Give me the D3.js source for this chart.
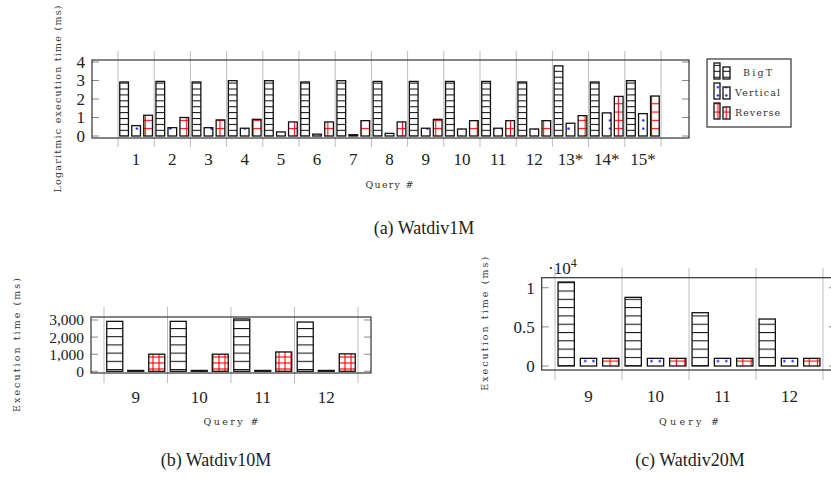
<!DOCTYPE html>
<html>
<head>
<meta charset="utf-8">
<script src="https://cdn.jsdelivr.net/npm/d3@7"></script>
<style>
  body { margin: 0; background: #fff; }
  text { font-family: "Liberation Serif", "DejaVu Serif", serif; fill: #222; }
  text.small { font-family: "DejaVu Serif", serif; fill: #333; }
</style>
</head>
<body>
<script>
// series shown in every panel
const seriesNames = ["BigT", "Vertical", "Reverse"];

// (a) Watdiv1M, log10 of execution time
const queries1M = ["1", "2", "3", "4", "5", "6", "7", "8", "9", "10", "11", "12", "13*", "14*", "15*"];
const bigT1M = [2.92, 2.95, 2.92, 2.99, 2.99, 2.92, 2.99, 2.95, 2.95, 2.95, 2.95, 2.92, 3.79, 2.92, 2.99];
const vertical1M = [0.56, 0.45, 0.45, 0.42, 0.22, 0.1, 0.07, 0.14, 0.42, 0.38, 0.42, 0.38, 0.69, 1.25, 1.21];
const reverse1M = [1.12, 1.0, 0.87, 0.9, 0.76, 0.76, 0.83, 0.76, 0.9, 0.83, 0.83, 0.83, 1.1, 2.14, 2.16];
const ticks1M = [0, 1, 2, 3, 4];

// (b) Watdiv10M, ms
const queries10M = ["9", "10", "11", "12"];
const bigT10M = [2920, 2920, 3060, 2880];
const vertical10M = [50, 50, 50, 50];
const reverse10M = [1000, 1000, 1130, 1020];
const ticks10M = [0, 1000, 2000, 3000];

// (c) Watdiv20M, ms
const queries20M = ["9", "10", "11", "12"];
const bigT20M = [10730, 8770, 6810, 6000];
const vertical20M = [980, 980, 980, 980];
const reverse20M = [980, 980, 980, 980];
const ticks20M = [0, 5000, 10000];

const svg = d3.select("body").append("svg")
    .attr("width", 831).attr("height", 478);
const defs = svg.append("defs");

//builds the three fill patterns used by one panel
function makePatterns(id, hatch, dot, grid) {
    let p = defs.append("pattern").attr("id", "hl" + id)
        .attr("patternUnits", "userSpaceOnUse")
        .attr("width", hatch).attr("height", hatch);
    p.append("line").attr("x1", 0).attr("x2", hatch).attr("y1", 0.5).attr("y2", 0.5)
        .attr("stroke", "#111").attr("stroke-width", 1.1);

    p = defs.append("pattern").attr("id", "dt" + id)
        .attr("patternUnits", "userSpaceOnUse")
        .attr("width", dot).attr("height", dot);
    p.append("circle").attr("cx", dot / 2).attr("cy", dot / 2).attr("r", 1.2).attr("fill", "#0010ff");

    p = defs.append("pattern").attr("id", "gr" + id)
        .attr("patternUnits", "userSpaceOnUse")
        .attr("width", grid).attr("height", grid);
    p.append("line").attr("x1", 0).attr("x2", grid).attr("y1", grid / 2).attr("y2", grid / 2)
        .attr("stroke", "#ff0000").attr("stroke-width", 1.1);
    p.append("line").attr("y1", 0).attr("y2", grid).attr("x1", grid / 2).attr("x2", grid / 2)
        .attr("stroke", "#ff0000").attr("stroke-width", 1.1);
}

function drawPanel(c) {
    makePatterns(c.id, c.hatch, c.dot, c.grid);
    const fills = ["url(#hl" + c.id + ")", "url(#dt" + c.id + ")", "url(#gr" + c.id + ")"];
    const [fx0, fy0, fx1, fy1] = c.frame;
    const g = svg.append("g");

    const x = d3.scaleBand().domain(c.categories).range(c.gridRange);
    const x1 = d3.scaleBand().domain(seriesNames)
        .range([-1.5 * c.spacing, 1.5 * c.spacing])
        .paddingInner(1 - c.barWidth / c.spacing)
        .paddingOuter((1 - c.barWidth / c.spacing) / 2);
    const y = d3.scaleLinear().domain(c.yDomain).range([fy1, fy0]);

    //vertical grid lines between groups, sticking out of the frame
    const bounds = c.categories.map(d => x(d)).concat([x.range()[1]]);
    g.append("g").selectAll("line").data(bounds).enter().append("line")
        .attr("x1", d => d).attr("x2", d => d)
        .attr("y1", fy0 - c.tickExt).attr("y2", fy1 + c.tickExt)
        .attr("stroke", "#bdbdbd").attr("stroke-width", 1);

    //bars, placed in page coordinates so the patterns line up like pgfplots
    const rects = [];
    c.categories.forEach((q, i) => {
        const cx = x(q) + x.bandwidth() / 2;
        seriesNames.forEach((s, k) => rects.push({x: cx + x1(s), v: c.values[k][i], k: k}));
    });
    g.append("g").selectAll("rect").data(rects).enter().append("rect")
        .attr("x", d => d.x)
        .attr("width", x1.bandwidth())
        .attr("y", d => y(d.v))
        .attr("height", d => y(0) - y(d.v))
        .attr("fill", d => fills[d.k])
        .attr("stroke", "#111").attr("stroke-width", 1.3);

    //y ticks inside, on both sides
    const ty = g.append("g");
    c.ticks.forEach(t => {
        ty.append("line").attr("x1", fx0).attr("x2", fx0 + 7).attr("y1", y(t)).attr("y2", y(t))
            .attr("stroke", "#888");
        ty.append("line").attr("x1", fx1 - 7).attr("x2", fx1).attr("y1", y(t)).attr("y2", y(t))
            .attr("stroke", "#888");
        ty.append("text").attr("x", fx0 - 7).attr("y", y(t)).attr("dy", "0.35em")
            .attr("text-anchor", "end").attr("font-size", c.tickSize).text(c.fmt(t));
    });

    //frame
    g.append("rect").attr("x", fx0).attr("y", fy0)
        .attr("width", fx1 - fx0).attr("height", fy1 - fy0)
        .attr("fill", "none").attr("stroke", "#333").attr("stroke-width", 1.2);

    //x tick labels
    g.append("g").selectAll("text").data(c.categories).enter().append("text")
        .attr("x", d => x(d) + x.bandwidth() / 2)
        .attr("y", fy1 + c.labelOff)
        .attr("text-anchor", "middle").attr("font-size", 17)
        .text(d => d);

    //axis titles
    g.append("text").attr("class", "small")
        .attr("x", x.range()[0] / 2 + x.range()[1] / 2).attr("y", c.xlabelY)
        .attr("text-anchor", "middle").attr("font-size", 9.5)
        .attr("textLength", c.xlabelLen).attr("lengthAdjust", "spacing")
        .text("Query #");
    g.append("text").attr("class", "small")
        .attr("transform", "translate(" + c.ylabelX + "," + (fy0 + fy1) / 2 + ") rotate(-90)")
        .attr("text-anchor", "middle").attr("dy", "0.35em").attr("font-size", 9.5)
        .attr("textLength", c.ylabelLen).attr("lengthAdjust", "spacing")
        .text(c.ylabel);

    //caption
    g.append("text").attr("x", c.captionX).attr("y", c.captionY)
        .attr("text-anchor", "middle").attr("font-size", 18)
        .text(c.caption);
    return g;
}

drawPanel({
    id: "a", categories: queries1M, values: [bigT1M, vertical1M, reverse1M],
    frame: [92, 60, 689, 138], gridRange: [118, 661],
    yDomain: [-0.108, 4.108], ticks: ticks1M, fmt: d => d, tickSize: 17,
    spacing: 12, barWidth: 8.7, hatch: 5.9, dot: 8.3, grid: 8.3, tickExt: 9, labelOff: 27,
    ylabel: "Logaritmic execution time (ms)", ylabelX: 58, ylabelLen: 187,
    xlabelY: 188, xlabelLen: 48,
    caption: "(a) Watdiv1M", captionX: 424, captionY: 234
});

drawPanel({
    id: "b", categories: queries10M, values: [bigT10M, vertical10M, reverse10M],
    frame: [91, 317, 371, 373], gridRange: [104, 358],
    yDomain: [-100, 3175], ticks: ticks10M, fmt: d3.format(","), tickSize: 15.5,
    spacing: 21, barWidth: 16, hatch: 8.2, dot: 8.3, grid: 6, tickExt: 10, labelOff: 30,
    ylabel: "Execution time (ms)", ylabelX: 17, ylabelLen: 134,
    xlabelY: 425, xlabelLen: 55,
    caption: "(b) Watdiv10M", captionX: 216, captionY: 466
});

const gc = drawPanel({
    id: "c", categories: queries20M, values: [bigT20M, vertical20M, reverse20M],
    frame: [541.7, 277.7, 836, 370], gridRange: [555, 823],
    yDomain: [-510, 11280], ticks: ticks20M, fmt: d => d / 1e4, tickSize: 17,
    spacing: 22.3, barWidth: 16.3, hatch: 8.3, dot: 8.3, grid: 8.3, tickExt: 10, labelOff: 32,
    ylabel: "Execution time (ms)", ylabelX: 485, ylabelLen: 134,
    xlabelY: 425, xlabelLen: 60,
    caption: "(c) Watdiv20M", captionX: 690, captionY: 466
});
//scale factor of the y axis
const mult = gc.append("text").attr("x", 548).attr("y", 274).attr("font-size", 17);
mult.append("tspan").text("\u00b710");
mult.append("tspan").attr("dy", -7).attr("font-size", 12).text("4");

//legend of panel (a)
const legend = svg.append("g");
legend.append("rect").attr("x", 707).attr("y", 59).attr("width", 84).attr("height", 68)
    .attr("fill", "#fff").attr("stroke", "#333").attr("stroke-width", 1.2);
const legendLen = [29, 45, 45];
const fillsA = ["url(#hla)", "url(#dta)", "url(#gra)"];
seriesNames.forEach((s, k) => {
    const top = 63 + k * 20;
    legend.append("rect").attr("x", 714).attr("y", top).attr("width", 6).attr("height", 16)
        .attr("fill", fillsA[k]).attr("stroke", "#111").attr("stroke-width", 1.3);
    legend.append("rect").attr("x", 723).attr("y", top + 4).attr("width", 7).attr("height", 12)
        .attr("fill", fillsA[k]).attr("stroke", "#111").attr("stroke-width", 1.3);
    legend.append("text").attr("class", "small").attr("x", 757.5).attr("y", top + 13)
        .attr("text-anchor", "middle").attr("font-size", 9.5)
        .attr("textLength", legendLen[k]).attr("lengthAdjust", "spacing")
        .text(s);
});
</script>
</body>
</html>
